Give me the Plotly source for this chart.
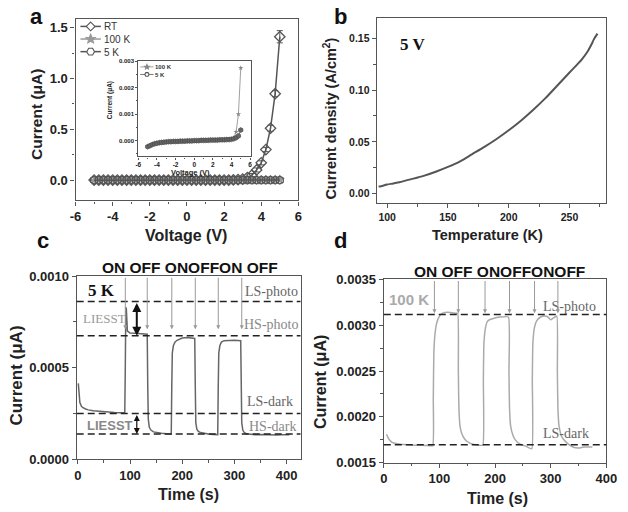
import math
import plotly.graph_objects as go

W, H = 628, 512
def fx(p): return p / W
def fy(p): return 1 - p / H

# ---------------- Panel a data ----------------
voltage = [-5.0, -4.75, -4.5, -4.25, -4.0, -3.75, -3.5, -3.25, -3.0, -2.75, -2.5, -2.25, -2.0,
           -1.75, -1.5, -1.25, -1.0, -0.75, -0.5, -0.25, 0.0, 0.25, 0.5, 0.75, 1.0, 1.25, 1.5,
           1.75, 2.0, 2.25, 2.5, 2.75, 3.0, 3.25, 3.5, 3.75, 4.0, 4.25, 4.5, 4.75, 5.0]
rt_current = [0.0, 0.0, 0.0, 0.0, 0.0, 0.0, 0.0, 0.0, 0.0, 0.0, 0.0, 0.0, 0.0,
              0.0, 0.0, 0.0, 0.0, 0.0, 0.0, 0.0, 0.0, 0.0, 0.0, 0.0, 0.0, 0.0, 0.0,
              0.0, 0.0, 0.0, 0.002, 0.005, 0.01, 0.025, 0.05, 0.10, 0.17, 0.30, 0.51, 0.85, 1.41]
rt_err = [0.0, 0.0, 0.0, 0.0, 0.0, 0.0, 0.0, 0.0, 0.0, 0.0, 0.0, 0.0, 0.0,
          0.0, 0.0, 0.0, 0.0, 0.0, 0.0, 0.0, 0.0, 0.0, 0.0, 0.0, 0.0, 0.0, 0.0,
          0.0, 0.0, 0.0, 0.0, 0.0, 0.0, 0.01, 0.015, 0.02, 0.02, 0.02, 0.03, 0.03, 0.06]
k100_current = [-0.00022, -0.00018, -0.00014, -0.00011, -0.00009, -0.00007, -0.00006, -0.00005,
                -0.00004, -0.00004, -0.00003, -0.00003, -0.00003, -0.00002, -0.00002, -0.00002,
                -0.00001, -0.00001, -0.00001, 0.0, 0.0, 0.0, 0.00001, 0.00001, 0.00001, 0.00001,
                0.00002, 0.00002, 0.00002, 0.00002, 0.00003, 0.00003, 0.00003, 0.00004, 0.00004,
                0.00005, 0.00006, 0.0001, 0.00033, 0.001, 0.00275]
k5_current = [-0.00023, -0.00019, -0.00015, -0.00012, -0.0001, -0.00008, -0.00007, -0.00006,
              -0.00005, -0.00004, -0.00004, -0.00003, -0.00003, -0.00003, -0.00002, -0.00002,
              -0.00002, -0.00001, -0.00001, -0.00001, 0.0, 0.0, 0.0, 0.00001, 0.00001, 0.00001,
              0.00001, 0.00002, 0.00002, 0.00002, 0.00002, 0.00003, 0.00003, 0.00003, 0.00004,
              0.00004, 0.00005, 0.00007, 0.00011, 0.00018, 0.0004]
a_series_names = ['RT', '100 K', '5 K']
inset_series_names = ['100 K', '5 K']
v_ticks = [-6, -4, -2, 0, 2, 4, 6]
v_ticktext = ['-6', '-4', '-2', '0', '2', '4', '6']

# ---------------- Panel b data ----------------
temperature = [93, 95, 100, 105, 110, 120, 130, 140, 150, 160, 170, 180, 190, 200, 210, 220,
               230, 240, 250, 260, 265, 268, 270, 273]
current_density = [0.0068, 0.0072, 0.0088, 0.0098, 0.0110, 0.0140, 0.0172, 0.0212, 0.0258,
                   0.0312, 0.0382, 0.0452, 0.0528, 0.0612, 0.0705, 0.0808, 0.0920, 0.1045,
                   0.1170, 0.1295, 0.1375, 0.1440, 0.1490, 0.1545]

# ---------------- Panel c data (5 K) ----------------
time_c = [1, 2, 4, 7, 10, 15, 20, 30, 40, 50, 60, 70, 80, 90, 91, 92, 93, 95, 100, 110, 120,
          130, 133, 134, 135, 137, 140, 145, 150, 160, 170, 179, 180, 181, 183, 186, 190, 200,
          210, 220, 224, 225, 226, 228, 231, 235, 240, 250, 260, 268, 269, 270, 272, 275, 280,
          290, 300, 312, 313, 314, 316, 319, 323, 330, 340, 350, 360, 370, 380, 390, 400, 405]
current_c = [0.000415, 0.00036, 0.00031, 0.00029, 0.000282, 0.000275, 0.00027, 0.000265,
             0.000262, 0.000258, 0.000256, 0.000256, 0.000255, 0.000256, 0.0005, 0.00083,
             0.00082, 0.0007, 0.00069, 0.000688, 0.000685, 0.000684, 0.000683, 0.0004, 0.00022,
             0.000175, 0.00016, 0.00015, 0.000146, 0.000142, 0.00014, 0.000139, 0.0004, 0.00058,
             0.00062, 0.00064, 0.00065, 0.000662, 0.000665, 0.000662, 0.00066, 0.0004, 0.0002,
             0.000165, 0.000152, 0.000146, 0.000142, 0.000138, 0.000136, 0.000135, 0.0004,
             0.00058, 0.00062, 0.00064, 0.000648, 0.00065, 0.00065, 0.000648, 0.0004, 0.0002,
             0.00016, 0.000145, 0.00014, 0.000136, 0.000134, 0.000135, 0.000133, 0.000134,
             0.000133, 0.000134, 0.000134, 0.000134]
c_levels = [0.000862, 0.000675, 0.00025, 0.000139]   # LS-photo, HS-photo, LS-dark, HS-dark
c_switch_times = [91, 133, 180, 225, 269, 314]

# ---------------- Panel d data (100 K) ----------------
time_d = [5, 7, 10, 15, 20, 30, 40, 50, 60, 70, 80, 88, 89, 90, 92, 95, 100, 105, 110, 120,
          130, 133, 134, 135, 137, 140, 145, 150, 160, 170, 178, 179, 180, 183, 186, 190, 200,
          210, 224, 225, 226, 228, 232, 236, 245, 255, 266, 267, 268, 271, 275, 282, 290, 295,
          300, 305, 311, 312, 313, 315, 320, 330, 340, 350, 360, 375]
current_d = [0.00181, 0.00178, 0.00175, 0.00172, 0.00171, 0.0017, 0.001695, 0.00169, 0.00169,
             0.001688, 0.001685, 0.001685, 0.0022, 0.0027, 0.0029, 0.00302, 0.0031, 0.00313,
             0.00314, 0.00314, 0.00313, 0.00313, 0.0025, 0.0021, 0.0019, 0.00182, 0.00176,
             0.00173, 0.0017, 0.00169, 0.00169, 0.0024, 0.0028, 0.00298, 0.00304, 0.00306,
             0.00308, 0.00309, 0.00309, 0.0025, 0.0021, 0.0019, 0.0018, 0.00175, 0.0017,
             0.00168, 0.00165, 0.0024, 0.0028, 0.00298, 0.00305, 0.00309, 0.0031, 0.00309,
             0.00306, 0.00308, 0.0031, 0.0025, 0.0021, 0.0019, 0.00178, 0.00171, 0.00167,
             0.00166, 0.00167, 0.00167]
d_levels = [0.003118, 0.001694]   # LS-photo, LS-dark
d_switch_times = [91, 134, 182, 226, 271, 313]

# ---------------- Figure ----------------
fig = go.Figure()
AX = '#555'
SANS = 'Liberation Sans'
SERIF = 'Liberation Serif'
C_RT, C_100, C_5 = '#555', '#9a9a9a', '#555'

# Panel a main
fig.add_trace(go.Scatter(x=voltage, y=rt_current, name=a_series_names[0], mode='lines+markers',
                         line=dict(color=C_RT, width=1.5),
                         marker=dict(symbol='diamond-open', size=8, color=C_RT, line=dict(width=1.3)),
                         error_y=dict(type='data', array=rt_err, color=C_RT, thickness=1, width=3),
                         xaxis='x', yaxis='y', showlegend=False))
fig.add_trace(go.Scatter(x=voltage, y=k100_current, name=a_series_names[1], mode='lines+markers',
                         line=dict(color=C_100, width=1.5),
                         marker=dict(symbol='star', size=8, color=C_100),
                         xaxis='x', yaxis='y', showlegend=False))
fig.add_trace(go.Scatter(x=voltage, y=k5_current, name=a_series_names[2], mode='lines+markers',
                         line=dict(color=C_5, width=1.5),
                         marker=dict(symbol='hexagon-open', size=8, color=C_5, line=dict(width=1.3)),
                         xaxis='x', yaxis='y', showlegend=False))
# inset
fig.add_trace(go.Scatter(x=voltage, y=k100_current, name=inset_series_names[0], mode='lines+markers',
                         line=dict(color='#888', width=0.8),
                         marker=dict(symbol='star', size=4, color='#888'),
                         xaxis='x2', yaxis='y2', showlegend=False))
fig.add_trace(go.Scatter(x=voltage, y=k5_current, name=inset_series_names[1], mode='lines+markers',
                         line=dict(color='#555', width=0.8),
                         marker=dict(symbol='hexagon', size=5, color='#666', line=dict(color='#444', width=0.6)),
                         xaxis='x2', yaxis='y2', showlegend=False))
# Panel b
fig.add_trace(go.Scatter(x=temperature, y=current_density, mode='lines', showlegend=False,
                         line=dict(color='#555', width=2, shape='spline', smoothing=0.8),
                         xaxis='x3', yaxis='y3'))
# Panel c
fig.add_trace(go.Scatter(x=time_c, y=current_c, mode='lines', showlegend=False,
                         line=dict(color='#666', width=1.5), xaxis='x4', yaxis='y4'))
# Panel d
fig.add_trace(go.Scatter(x=time_d, y=current_d, mode='lines', showlegend=False,
                         line=dict(color='#aaa', width=1.5, shape='spline', smoothing=0.4),
                         xaxis='x5', yaxis='y5'))


def ax_style(rng, dtick, mdtick, fmt, fs, domain, anchor, tl=4):
    return dict(range=rng, domain=domain, anchor=anchor, showline=True, mirror=True,
                linecolor=AX, linewidth=1.2, ticks='outside', ticklen=tl, tickwidth=1.1,
                tickcolor=AX, tick0=0, dtick=dtick, tickformat=fmt,
                tickfont=dict(family=SANS, size=fs, color='#222', weight='bold'),
                showgrid=False, zeroline=False,
                minor=dict(dtick=mdtick, tick0=0, ticks='outside', ticklen=tl * 0.6,
                           tickcolor=AX, tickwidth=1, showgrid=False))

dom_a = ([fx(71.5), fx(300.5)], [fy(199.3), fy(12.5)])
dom_in = ([fx(136), fx(252.3)], [fy(154), fy(56)])
dom_b = ([fx(381), fx(616.7)], [fy(202.3), fy(11.7)])
dom_c = ([fx(72.7), fx(302.7)], [fy(466), fy(277.3)])
dom_d = ([fx(388.3), fx(617)], [fy(469.3), fy(280.7)])

xa = ax_style([-6, 6], 2, 1, 'd', 13, dom_a[0], 'y')
xa.update(tickmode='array', tickvals=v_ticks, ticktext=v_ticktext)
xin = ax_style([-6, 6.15], 2, 1, 'd', 6.5, dom_in[0], 'y2', tl=2)
xin.update(tickmode='array', tickvals=v_ticks, ticktext=v_ticktext)

fig.update_layout(
    width=W, height=H, margin=dict(l=0, r=0, t=0, b=0),
    paper_bgcolor='white', plot_bgcolor='white', showlegend=False,
    xaxis=xa,
    yaxis=ax_style([-0.2, 1.583], 0.5, 0.25, '.1f', 13, dom_a[1], 'x'),
    xaxis2=xin,
    yaxis2=ax_style([-0.0006, 0.003], 0.001, 0.0005, '.3f', 6, dom_in[1], 'x2', tl=2),
    xaxis3=ax_style([91.4, 280], 50, 25, 'd', 10.5, dom_b[0], 'y3'),
    yaxis3=ax_style([-0.0094, 0.1693], 0.05, 0.025, '.2f', 10.5, dom_b[1], 'x3'),
    xaxis4=ax_style([-2, 426.5], 100, 50, 'd', 13, dom_c[0], 'y4'),
    yaxis4=ax_style([0, 0.001], 0.0005, 0.00025, '.4f', 13, dom_c[1], 'x4'),
    xaxis5=ax_style([0, 400], 100, 50, 'd', 13, dom_d[0], 'y5'),
    yaxis5=ax_style([0.0015, 0.0035], 0.0005, 0.00025, '.4f', 13, dom_d[1], 'x5'),
)

dash = '7px,4px'
for lv in c_levels:
    fig.add_shape(type='line', xref='x4 domain', yref='y4', x0=0, x1=1, y0=lv, y1=lv,
                  line=dict(color='#222', width=1.5, dash=dash))
for lv in d_levels:
    fig.add_shape(type='line', xref='x5 domain', yref='y5', x0=0, x1=1, y0=lv, y1=lv,
                  line=dict(color='#222', width=1.5, dash=dash))


# ---- hand-drawn compact legends (as in the original) ----
def poly_path(pts):
    return 'M ' + ' L '.join(f'{fx(x):.5f},{fy(y):.5f}' for x, y in pts) + ' Z'

def glyph(kind, cx, cy, r):
    if kind == 'diamond':
        pts = [(cx, cy - r), (cx + r, cy), (cx, cy + r), (cx - r, cy)]
    elif kind == 'hexagon':
        pts = [(cx + r * math.cos(math.radians(a)), cy + r * math.sin(math.radians(a)))
               for a in range(0, 360, 60)]
    else:  # star
        pts = []
        for i in range(10):
            rr = r if i % 2 == 0 else r * 0.45
            a = math.radians(-90 + 36 * i)
            pts.append((cx + rr * math.cos(a), cy + rr * math.sin(a)))
    return pts

def legend_sample(x0, x1, cy, color, kind, r, filled, lw):
    fig.add_shape(type='line', xref='paper', yref='paper', x0=fx(x0), x1=fx(x1), y0=fy(cy), y1=fy(cy),
                  line=dict(color=color, width=lw))
    cx = (x0 + x1) / 2
    fig.add_shape(type='path', xref='paper', yref='paper', path=poly_path(glyph(kind, cx, cy, r)),
                  line=dict(color=color, width=1.1), fillcolor=color if filled else 'white')

ann = []
row_a = [20.0, 33.0, 46.0]
legend_sample(76.5, 97.5, row_a[0], C_RT, 'diamond', 4.5, False, 1.5)
legend_sample(76.5, 97.5, row_a[1], C_100, 'star', 5, True, 1.5)
legend_sample(76.5, 97.5, row_a[2], C_5, 'hexagon', 4, False, 1.5)
ann.append(dict(x=fx(99.5), y=fy(row_a[1]), xref='paper', yref='paper',
                text='<br>'.join(a_series_names), showarrow=False, align='left',
                xanchor='left', yanchor='middle', borderpad=0,
                font=dict(family=SANS, size=10, color='#333')))
row_in = [61.7, 69.5]
legend_sample(138, 151.7, row_in[0], '#888', 'star', 2.5, True, 0.8)
legend_sample(138, 151.7, row_in[1], '#555', 'hexagon', 2.2, False, 0.8)
ann.append(dict(x=fx(152), y=fy(sum(row_in) / 2), xref='paper', yref='paper',
                text='<br>'.join(inset_series_names), showarrow=False, align='left',
                xanchor='left', yanchor='middle', borderpad=0,
                font=dict(family=SANS, size=6, color='#333', weight='bold')))


def txt(x, y, s, size, color='#222', family=SANS, bold=True, xanchor='center', angle=0):
    ann.append(dict(x=fx(x), y=fy(y), xref='paper', yref='paper', text=s, showarrow=False,
                    xanchor=xanchor, yanchor='middle', textangle=angle,
                    font=dict(family=family, size=size, color=color,
                              weight='bold' if bold else 'normal')))

# panel letters
txt(31, 10, 'a', 22, '#111')
txt(344, 10, 'b', 22, '#111')
txt(38, 241, 'c', 22, '#111')
txt(344, 241, 'd', 22, '#111')

# axis titles
txt(32, 111, 'Current (μA)', 15.5, angle=-90)
txt(185, 235, 'Voltage (V)', 16)
txt(190, 170, 'Voltage (V)', 7.5)
txt(107, 96, 'Current (μA)', 6.5, angle=-90)
txt(333, 115, 'Current density (A/cm<sup>2</sup>)', 14.5, angle=-90)
txt(495, 235, 'Temperature (K)', 14.5)
txt(11, 380, 'Current (μA)', 17, angle=-90)
txt(188, 502, 'Time (s)', 16)
txt(323, 386, 'Current (μA)', 16, angle=-90)
txt(505, 506, 'Time (s)', 16)

# panel b label
txt(402.7, 38.5, '5 V', 17, '#111', SERIF, True, 'left')

# panel c labels
txt(189, 268.5, 'ON OFF ONOFFON OFF', 15.5, '#111')
txt(82.7, 292.5, '5 K', 17, '#111', SERIF, True, 'left')
txt(302, 293.3, 'LS-photo', 14, '#666', SERIF, False, 'right')
txt(302, 327.3, 'HS-photo', 14, '#888', SERIF, False, 'right')
txt(297, 406, 'LS-dark', 14, '#666', SERIF, False, 'right')
txt(300, 431.7, 'HS-dark', 14, '#888', SERIF, False, 'right')
txt(76.7, 321, 'LIESST', 13, '#999', SERIF, False, 'left')
txt(81.7, 431, 'LIESST', 13, '#888', SANS, True, 'left')

# panel d labels
txt(507, 272.5, 'ON OFF ONOFFONOFF', 15.5, '#111')
txt(391.7, 301.7, '100 K', 15, '#aaa', SANS, True, 'left')
txt(550, 308.3, 'LS-photo', 14, '#666', SERIF, False, 'left')
txt(550, 439, 'LS-dark', 14, '#666', SERIF, False, 'left')

# ON/OFF pointer lines
for t in c_switch_times:
    ann.append(dict(x=t, y=0.00071, ax=t, ay=0.001, xref='x4', yref='y4', axref='x4', ayref='y4',
                    text='', showarrow=True, arrowhead=2, arrowsize=0.8, arrowwidth=1,
                    arrowcolor='#999'))
for t in d_switch_times:
    ann.append(dict(x=t, y=0.00313, ax=t, ay=0.0035, xref='x5', yref='y5', axref='x5', ayref='y5',
                    text='', showarrow=True, arrowhead=2, arrowsize=0.8, arrowwidth=1,
                    arrowcolor='#999'))

# LIESST double arrows
ann.append(dict(x=113, y=c_levels[1], ax=113, ay=c_levels[0], xref='x4', yref='y4', axref='x4',
                ayref='y4', text='', showarrow=True, arrowhead=2, startarrowhead=2,
                arrowside='end+start', arrowsize=0.9, startarrowsize=0.9, arrowwidth=2,
                arrowcolor='#111'))
ann.append(dict(x=113, y=c_levels[3], ax=113, ay=c_levels[2], xref='x4', yref='y4', axref='x4',
                ayref='y4', text='', showarrow=True, arrowhead=2, startarrowhead=2,
                arrowside='end+start', arrowsize=1, startarrowsize=1, arrowwidth=1.2,
                arrowcolor='#111'))

fig.update_layout(annotations=ann)
fig.write_html('out.html')
